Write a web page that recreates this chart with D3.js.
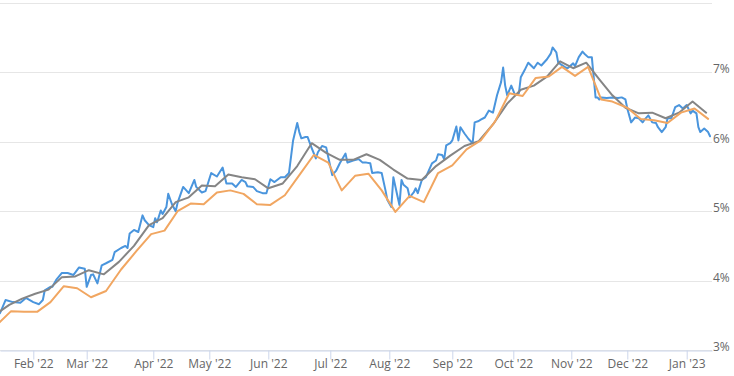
<!DOCTYPE html>
<html>
<head>
<meta charset="utf-8">
<script src="https://cdn.jsdelivr.net/npm/d3@7"></script>
<style>
    body { margin: 0; background: #ffffff; }
    svg { display: block; font-family: "Open Sans", sans-serif; }
</style>
</head>
<body>
<div id="chart"></div>
<script>
// daily rate (blue)
const dailyRate = [
    ["2022-01-14", 3.53], ["2022-01-17", 3.72], ["2022-01-21", 3.69], ["2022-01-25", 3.68],
    ["2022-01-28", 3.75], ["2022-02-01", 3.69], ["2022-02-04", 3.66], ["2022-02-06", 3.72],
    ["2022-02-07", 3.86], ["2022-02-10", 3.91], ["2022-02-11", 3.91], ["2022-02-13", 4.01],
    ["2022-02-16", 4.11], ["2022-02-19", 4.11], ["2022-02-22", 4.08], ["2022-02-25", 4.19],
    ["2022-02-28", 4.17], ["2022-03-01", 3.91], ["2022-03-03", 4.08], ["2022-03-04", 4.09],
    ["2022-03-06", 3.96], ["2022-03-08", 4.22], ["2022-03-10", 4.25], ["2022-03-13", 4.30],
    ["2022-03-14", 4.41], ["2022-03-17", 4.47], ["2022-03-19", 4.50], ["2022-03-20", 4.47],
    ["2022-03-21", 4.68], ["2022-03-23", 4.73], ["2022-03-25", 4.70], ["2022-03-27", 4.94],
    ["2022-03-28", 4.87], ["2022-03-30", 4.80], ["2022-04-01", 4.77], ["2022-04-02", 4.90],
    ["2022-04-03", 4.84], ["2022-04-05", 5.01], ["2022-04-06", 4.96], ["2022-04-08", 5.06],
    ["2022-04-09", 5.25], ["2022-04-11", 5.10], ["2022-04-13", 5.00], ["2022-04-14", 5.12],
    ["2022-04-17", 5.35], ["2022-04-20", 5.26], ["2022-04-23", 5.45], ["2022-04-24", 5.35],
    ["2022-04-27", 5.27], ["2022-04-29", 5.29], ["2022-05-02", 5.55], ["2022-05-05", 5.50],
    ["2022-05-08", 5.63], ["2022-05-10", 5.40], ["2022-05-13", 5.40], ["2022-05-15", 5.35],
    ["2022-05-18", 5.45], ["2022-05-20", 5.42], ["2022-05-21", 5.36], ["2022-05-24", 5.35],
    ["2022-05-26", 5.29], ["2022-05-29", 5.26], ["2022-05-31", 5.26], ["2022-06-02", 5.46],
    ["2022-06-04", 5.42], ["2022-06-07", 5.49], ["2022-06-09", 5.49], ["2022-06-11", 5.55],
    ["2022-06-13", 6.02], ["2022-06-15", 6.27], ["2022-06-16", 6.14], ["2022-06-17", 6.05],
    ["2022-06-19", 6.07], ["2022-06-20", 6.07], ["2022-06-22", 5.91], ["2022-06-24", 5.76],
    ["2022-06-25", 5.85], ["2022-06-27", 5.94], ["2022-06-29", 5.92], ["2022-06-30", 5.78],
    ["2022-07-02", 5.52], ["2022-07-04", 5.58], ["2022-07-06", 5.69], ["2022-07-09", 5.83],
    ["2022-07-10", 5.70], ["2022-07-13", 5.73], ["2022-07-16", 5.75], ["2022-07-18", 5.70],
    ["2022-07-20", 5.70], ["2022-07-22", 5.69], ["2022-07-23", 5.55], ["2022-07-26", 5.56],
    ["2022-07-28", 5.55], ["2022-07-30", 5.30], ["2022-07-31", 5.16], ["2022-08-02", 5.06],
    ["2022-08-03", 5.49], ["2022-08-05", 5.22], ["2022-08-06", 5.09], ["2022-08-07", 5.45],
    ["2022-08-08", 5.38], ["2022-08-10", 5.33], ["2022-08-11", 5.20], ["2022-08-13", 5.27],
    ["2022-08-14", 5.33], ["2022-08-15", 5.26], ["2022-08-17", 5.45], ["2022-08-19", 5.49],
    ["2022-08-22", 5.69], ["2022-08-24", 5.73], ["2022-08-25", 5.82], ["2022-08-27", 5.81],
    ["2022-08-28", 5.75], ["2022-08-29", 5.95], ["2022-08-31", 5.98], ["2022-09-01", 6.02],
    ["2022-09-03", 6.22], ["2022-09-04", 6.02], ["2022-09-05", 6.21], ["2022-09-07", 6.12],
    ["2022-09-09", 6.04], ["2022-09-11", 5.98], ["2022-09-12", 6.28], ["2022-09-14", 6.30],
    ["2022-09-15", 6.32], ["2022-09-17", 6.35], ["2022-09-19", 6.45], ["2022-09-21", 6.42],
    ["2022-09-23", 6.67], ["2022-09-25", 6.86], ["2022-09-26", 7.07], ["2022-09-27", 6.81],
    ["2022-09-28", 6.67], ["2022-09-30", 6.81], ["2022-10-02", 6.67], ["2022-10-04", 6.70],
    ["2022-10-05", 6.93], ["2022-10-07", 7.03], ["2022-10-09", 7.14], ["2022-10-12", 7.06],
    ["2022-10-14", 7.14], ["2022-10-16", 7.10], ["2022-10-19", 7.19], ["2022-10-21", 7.27],
    ["2022-10-22", 7.36], ["2022-10-24", 7.29], ["2022-10-25", 7.14], ["2022-10-29", 7.07],
    ["2022-10-30", 7.06], ["2022-11-02", 7.13], ["2022-11-03", 7.09], ["2022-11-05", 7.22],
    ["2022-11-07", 7.30], ["2022-11-08", 7.27], ["2022-11-10", 7.22], ["2022-11-12", 7.22],
    ["2022-11-14", 6.64], ["2022-11-15", 6.64], ["2022-11-16", 6.61], ["2022-11-17", 6.64],
    ["2022-11-20", 6.63], ["2022-11-23", 6.64], ["2022-11-26", 6.63], ["2022-11-28", 6.64],
    ["2022-11-30", 6.61], ["2022-12-01", 6.48], ["2022-12-03", 6.28], ["2022-12-05", 6.35],
    ["2022-12-07", 6.34], ["2022-12-09", 6.28], ["2022-12-10", 6.32], ["2022-12-12", 6.38],
    ["2022-12-14", 6.28], ["2022-12-16", 6.27], ["2022-12-17", 6.21], ["2022-12-19", 6.14],
    ["2022-12-21", 6.21], ["2022-12-22", 6.34], ["2022-12-24", 6.34], ["2022-12-26", 6.50],
    ["2022-12-28", 6.53], ["2022-12-30", 6.48], ["2023-01-01", 6.53], ["2023-01-03", 6.41],
    ["2023-01-04", 6.45], ["2023-01-06", 6.41], ["2023-01-07", 6.21], ["2023-01-08", 6.14],
    ["2023-01-10", 6.19], ["2023-01-12", 6.14], ["2023-01-13", 6.08]
];

// weekly survey, wednesdays (gray)
const weeklyWed = [
    ["2022-01-12", 3.52], ["2022-01-19", 3.65], ["2022-01-26", 3.74], ["2022-02-02", 3.81],
    ["2022-02-09", 3.87], ["2022-02-16", 4.05], ["2022-02-23", 4.06], ["2022-03-02", 4.15],
    ["2022-03-09", 4.09], ["2022-03-16", 4.27], ["2022-03-23", 4.50], ["2022-03-30", 4.80],
    ["2022-04-06", 4.90], ["2022-04-13", 5.13], ["2022-04-20", 5.20], ["2022-04-27", 5.37],
    ["2022-05-04", 5.36], ["2022-05-11", 5.53], ["2022-05-18", 5.49], ["2022-05-25", 5.46],
    ["2022-06-01", 5.33], ["2022-06-08", 5.40], ["2022-06-15", 5.65], ["2022-06-22", 5.98],
    ["2022-06-29", 5.84], ["2022-07-06", 5.74], ["2022-07-13", 5.74], ["2022-07-20", 5.82],
    ["2022-07-27", 5.74], ["2022-08-03", 5.60], ["2022-08-10", 5.47], ["2022-08-17", 5.45],
    ["2022-08-24", 5.65], ["2022-08-31", 5.80], ["2022-09-07", 5.94], ["2022-09-14", 6.01],
    ["2022-09-21", 6.25], ["2022-09-28", 6.55], ["2022-10-05", 6.75], ["2022-10-12", 6.81],
    ["2022-10-19", 6.94], ["2022-10-26", 7.16], ["2022-11-02", 7.06], ["2022-11-09", 7.14],
    ["2022-11-16", 6.90], ["2022-11-23", 6.67], ["2022-11-30", 6.49], ["2022-12-07", 6.41],
    ["2022-12-14", 6.42], ["2022-12-21", 6.34], ["2022-12-28", 6.42], ["2023-01-04", 6.58],
    ["2023-01-11", 6.42]
];

// weekly survey, thursdays (orange)
const weeklyThu = [
    ["2022-01-13", 3.38], ["2022-01-20", 3.56], ["2022-01-27", 3.55], ["2022-02-03", 3.55],
    ["2022-02-10", 3.69], ["2022-02-17", 3.92], ["2022-02-24", 3.89], ["2022-03-03", 3.76],
    ["2022-03-10", 3.85], ["2022-03-17", 4.16], ["2022-03-24", 4.42], ["2022-03-31", 4.67],
    ["2022-04-07", 4.72], ["2022-04-14", 5.00], ["2022-04-21", 5.11], ["2022-04-28", 5.10],
    ["2022-05-05", 5.27], ["2022-05-12", 5.30], ["2022-05-19", 5.25], ["2022-05-26", 5.10],
    ["2022-06-02", 5.09], ["2022-06-09", 5.23], ["2022-06-16", 5.52], ["2022-06-23", 5.81],
    ["2022-06-30", 5.70], ["2022-07-07", 5.30], ["2022-07-14", 5.51], ["2022-07-21", 5.54],
    ["2022-07-28", 5.30], ["2022-08-04", 4.99], ["2022-08-11", 5.22], ["2022-08-18", 5.13],
    ["2022-08-25", 5.55], ["2022-09-01", 5.66], ["2022-09-08", 5.89], ["2022-09-15", 6.02],
    ["2022-09-22", 6.29], ["2022-09-29", 6.70], ["2022-10-06", 6.66], ["2022-10-13", 6.92],
    ["2022-10-20", 6.94], ["2022-10-27", 7.08], ["2022-11-03", 6.95], ["2022-11-10", 7.08],
    ["2022-11-17", 6.61], ["2022-11-23", 6.58], ["2022-12-01", 6.49], ["2022-12-08", 6.33],
    ["2022-12-15", 6.31], ["2022-12-22", 6.27], ["2022-12-29", 6.42], ["2023-01-05", 6.48],
    ["2023-01-12", 6.33]
];

// month ticks on the x axis and percent ticks on the y axis
const monthTicks = ["2022-02-01", "2022-03-01", "2022-04-01", "2022-05-01", "2022-06-01",
    "2022-07-01", "2022-08-01", "2022-09-01", "2022-10-01", "2022-11-01", "2022-12-01", "2023-01-01"];
const gridValues = [3, 4, 5, 6, 7, 8];
const labelValues = [3, 4, 5, 6, 7];


const parse = d3.timeParse("%Y-%m-%d");

const width = 734;
const height = 376;
const plot = { left: 0, right: 712, top: 3, bottom: 350 };

const svg = d3.select("#chart")
    .append("svg")
    .attr("width", width)
    .attr("height", height);

// the source axis skips weekends/holidays, so months are not equally wide:
// piecewise time scale calibrated on the month ticks of the reference
const axisStart = parse("2022-01-14");
const axisEnd = parse("2023-01-14");
const tickDates = monthTicks.map(parse);
const tickPx = [33.3, 86.7, 153.3, 209.3, 268.3, 330.3, 389.3, 452.3, 513.3, 571.3, 627.3, 686.7];

const x = d3.scaleTime()
    .domain([axisStart, ...tickDates, axisEnd])
    .range([plot.left, ...tickPx, plot.right]);

const y = d3.scaleLinear()
    .domain([3, 8])
    .range([plot.bottom, plot.top]);

// grid
svg.append("g")
    .selectAll("line")
    .data(gridValues)
    .enter()
    .append("line")
    .attr("x1", plot.left)
    .attr("x2", plot.right)
    .attr("y1", d => Math.round(y(d)) + 0.5)
    .attr("y2", d => Math.round(y(d)) + 0.5)
    .attr("stroke", "#e6e6e6")
    .attr("stroke-width", 1);

// y labels, right of the grid
svg.append("g")
    .selectAll("text")
    .data(labelValues)
    .enter()
    .append("text")
    .attr("x", plot.right + 1)
    .attr("y", d => y(d) + 1)
    .attr("font-size", "12px")
    .attr("fill", "#666666")
    .text(d => d + "%");

// x axis
const xAxis = svg.append("g")
    .attr("transform", `translate(0,${Math.round(plot.bottom) + 0.5})`)
    .call(d3.axisBottom(x)
        .tickValues(tickDates)
        .tickSize(9)
        .tickSizeOuter(0)
        .tickPadding(0)
        .tickFormat(d3.timeFormat("%b '%y")));

xAxis.select(".domain")
    .attr("stroke", "#ccd6eb");

xAxis.selectAll(".tick line")
    .attr("stroke", "#ccd6eb");

xAxis.selectAll(".tick text")
    .attr("font-family", "Open Sans, sans-serif")
    .attr("font-size", "12px")
    .attr("fill", "#666666");

// lines
svg.append("clipPath")
    .attr("id", "clip")
    .append("rect")
    .attr("x", plot.left)
    .attr("y", 0)
    .attr("width", plot.right - plot.left)
    .attr("height", plot.bottom);

const line = d3.line()
    .x(d => x(parse(d[0])))
    .y(d => y(d[1]));

const series = [
    { data: dailyRate, color: "#4a95dd" },
    { data: weeklyWed, color: "#858585" },
    { data: weeklyThu, color: "#f1a661" }
];

svg.append("g")
    .attr("clip-path", "url(#clip)")
    .selectAll("path")
    .data(series)
    .enter()
    .append("path")
    .attr("d", d => line(d.data))
    .attr("fill", "none")
    .attr("stroke", d => d.color)
    .attr("stroke-width", 2)
    .attr("stroke-linejoin", "round")
    .attr("stroke-linecap", "round");
</script>
</body>
</html>
